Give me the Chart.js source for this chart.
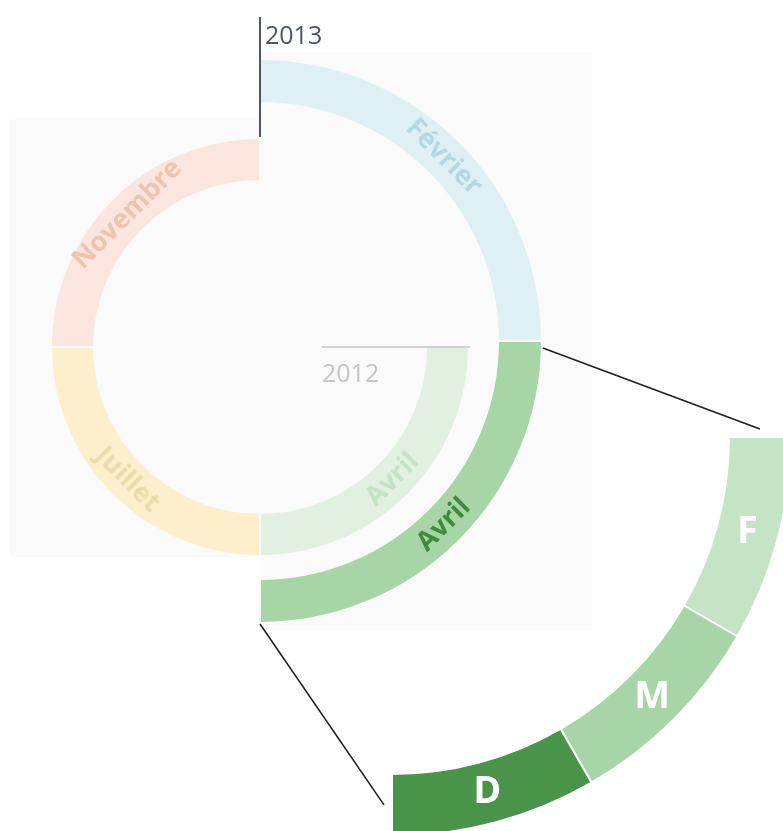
<!DOCTYPE html>
<html lang="fr">
<head>
<meta charset="utf-8">
<script src="https://cdn.jsdelivr.net/npm/chart.js@4.4.1/dist/chart.umd.min.js"></script>
<style>
  html, body { margin: 0; padding: 0; background: #fff; }
  #wrap { position: relative; width: 783px; height: 831px; overflow: hidden; }
  #wrap canvas { position: absolute; left: 0; top: 0; }
</style>
</head>
<body>
<div id="wrap">
  <canvas id="ring2012" width="783" height="831"></canvas>
  <canvas id="ring2013" width="783" height="831"></canvas>
  <canvas id="detail" width="783" height="831"></canvas>
</div>
<script>
// saisons de chaque année (un quart de tour = 3 mois)
const months2012 = ['Avril', 'Juillet', 'Novembre'];
const values2012 = [3, 3, 3];
const months2013 = ['Février', 'Avril'];
const values2013 = [3, 3];
// détail du dernier trimestre
const detailLabels = ['F', 'M', 'D'];
const detailValues = [1, 1, 1];
const yearLabels = ['2012', '2013'];

const W = 783, H = 831;
const FONT = '"Open Sans", Lato, sans-serif';
const PANEL = '#fafafa';

// zone de 100x100 centrée sur (x, y) : le centre du doughnut tombe là
function areaAround(x, y) {
    return { left: x - 50, right: W - x - 50, top: y - 50, bottom: H - y - 50 };
}

// fonds gris clair derrière les anneaux
const panels = {
    id: 'panels',
    beforeDraw(chart) {
        const ctx = chart.ctx;
        ctx.save();
        ctx.fillStyle = PANEL;
        ctx.fillRect(10, 119, 250, 438);
        ctx.fillRect(260, 52, 332, 578);
        ctx.restore();
    }
};

// libellés posés au milieu de chaque arc
const arcLabels = {
    id: 'arcLabels',
    afterDatasetsDraw(chart, args, opts) {
        const ctx = chart.ctx;
        const ds = chart.data.datasets[0];
        const meta = chart.getDatasetMeta(0);
        ctx.save();
        ctx.font = opts.font;
        ctx.textAlign = 'center';
        ctx.textBaseline = 'middle';
        meta.data.forEach((arc, i) => {
            const p = arc.getProps(['x', 'y', 'startAngle', 'endAngle', 'innerRadius', 'outerRadius'], true);
            const a = (p.startAngle + p.endAngle) / 2;
            const r = (p.innerRadius + p.outerRadius) / 2;
            ctx.save();
            ctx.translate(p.x + Math.cos(a) * r, p.y + Math.sin(a) * r);
            if (opts.follow) {
                ctx.rotate(Math.sin(a) > 0 ? a - Math.PI / 2 : a + Math.PI / 2);
            }
            ctx.fillStyle = ds.labelColors[i];
            ctx.fillText(chart.data.labels[i], 0, 0);
            ctx.restore();
        });
        ctx.restore();
    }
};

// trait radial qui marque le début de l'année + son étiquette
const yearMark = {
    id: 'yearMark',
    afterDatasetsDraw(chart, args, opts) {
        const arc = chart.getDatasetMeta(0).data[0];
        const p = arc.getProps(['x', 'y', 'startAngle'], true);
        const a = p.startAngle;
        const ctx = chart.ctx;
        ctx.save();
        ctx.strokeStyle = opts.color;
        ctx.lineWidth = opts.width;
        ctx.beginPath();
        ctx.moveTo(p.x + Math.cos(a) * opts.from, p.y + Math.sin(a) * opts.from);
        ctx.lineTo(p.x + Math.cos(a) * opts.to, p.y + Math.sin(a) * opts.to);
        ctx.stroke();
        ctx.font = '25px ' + FONT;
        ctx.fillStyle = opts.textColor;
        ctx.textAlign = 'left';
        ctx.textBaseline = 'alphabetic';
        ctx.fillText(opts.text, p.x + opts.textX, p.y + opts.textY);
        ctx.restore();
    }
};

function ringOptions(center, radius, cutout, rotation, circumference, extra) {
    return {
        responsive: false,
        animation: false,
        events: [],
        radius: radius,
        cutout: cutout,
        rotation: rotation,
        circumference: circumference,
        layout: { padding: areaAround(center[0], center[1]) },
        plugins: Object.assign({
            legend: { display: false },
            tooltip: { enabled: false }
        }, extra)
    };
}

// anneau intérieur : 2012 (centre 260,347)
const chart2012 = new Chart(document.getElementById('ring2012'), {
    type: 'doughnut',
    data: {
        labels: months2012,
        datasets: [{
            data: values2012,
            backgroundColor: ['#e1f0e1', '#fdefcc', '#fae6de'],
            labelColors: ['#c6e2c5', '#ecdcab', '#efc3ad'],
            borderColor: PANEL,
            borderWidth: 2,
            clip: false
        }]
    },
    options: ringOptions([260, 347], 209, (166 / 209 * 100) + '%', 90, 270, {
        arcLabels: { font: 'bold 27px ' + FONT, follow: true },
        yearMark: { from: 62, to: 210, color: '#c4c4c8', width: 1.5,
                    text: yearLabels[0], textColor: '#c4c4cc', textX: 62, textY: 35 }
    }),
    plugins: [panels, arcLabels, yearMark]
});

// anneau extérieur : 2013 (demi-cercle droit, centre 260,341)
// avec circumference 180 Chart.js décale le centre de R/2 vers la gauche
const R2013 = 282;
const chart2013 = new Chart(document.getElementById('ring2013'), {
    type: 'doughnut',
    data: {
        labels: months2013,
        datasets: [{
            data: values2013,
            backgroundColor: ['#dff0f4', '#a7d5a6'],
            labelColors: ['#b3d8e2', '#3f8b3e'],
            borderColor: PANEL,
            borderWidth: 2,
            clip: false
        }]
    },
    options: ringOptions([260 + R2013 / 2, 341], R2013, (238 / R2013 * 100) + '%', 0, 180, {
        arcLabels: { font: 'bold 27px ' + FONT, follow: true },
        yearMark: { from: 204, to: 324, color: '#4d5566', width: 2,
                    text: yearLabels[1], textColor: '#4d5566', textX: 5, textY: -297 }
    }),
    plugins: [arcLabels, yearMark]
});

// traits qui relient Avril 2013 à son détail
const connectors = {
    id: 'connectors',
    afterDraw(chart) {
        const src = chart2013.getDatasetMeta(0).data[1]
            .getProps(['x', 'y', 'startAngle', 'endAngle', 'outerRadius'], true);
        const parts = chart.getDatasetMeta(0).data;
        const first = parts[0].getProps(['x', 'y', 'startAngle', 'innerRadius', 'outerRadius'], true);
        const last = parts[parts.length - 1].getProps(['x', 'y', 'endAngle', 'innerRadius', 'outerRadius'], true);
        const rMid = (first.innerRadius + first.outerRadius) / 2;
        const gap = 8 / rMid;
        const ctx = chart.ctx;

        const pt = (c, a, r) => [c.x + Math.cos(a) * r, c.y + Math.sin(a) * r];
        const lines = [
            [pt(src, src.startAngle + 0.025, src.outerRadius + 1), pt(first, first.startAngle - gap, rMid)],
            [pt(src, src.endAngle, src.outerRadius + 1), pt(last, last.endAngle + gap, rMid)]
        ];
        ctx.save();
        ctx.strokeStyle = '#1f1f1f';
        ctx.lineWidth = 1.6;
        lines.forEach(([a, b]) => {
            ctx.beginPath();
            ctx.moveTo(a[0], a[1]);
            ctx.lineTo(b[0], b[1]);
            ctx.stroke();
        });
        ctx.restore();
    }
};

// arc de détail : quart de cercle (3h -> 6h), centre 392,437
// avec circumference 90 Chart.js décale le centre de R/2 en x et en y
const RDetail = 399;
const chartDetail = new Chart(document.getElementById('detail'), {
    type: 'doughnut',
    data: {
        labels: detailLabels,
        datasets: [{
            data: detailValues,
            backgroundColor: ['#c5e4c6', '#a8d5a7', '#4a9449'],
            labelColors: ['#ffffff', '#ffffff', '#ffffff'],
            borderColor: '#ffffff',
            borderWidth: 2,
            clip: false
        }]
    },
    options: ringOptions([392 + RDetail / 2, 437 + RDetail / 2], RDetail, (337 / RDetail * 100) + '%', 90, 90, {
        arcLabels: { font: 'bold 38px ' + FONT, follow: false }
    }),
    plugins: [arcLabels, connectors]
});
</script>
</body>
</html>
